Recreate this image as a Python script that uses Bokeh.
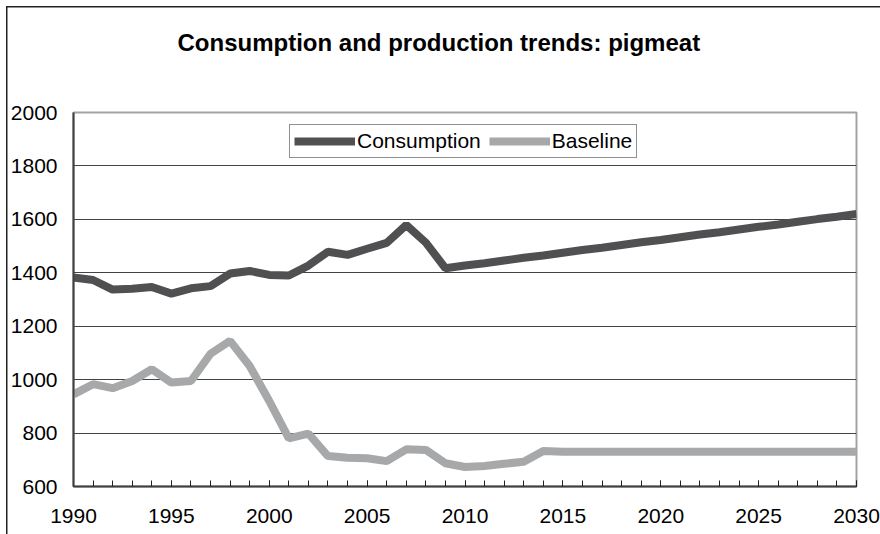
from bokeh.plotting import figure
from bokeh.models import Range1d, SingleIntervalTicker, Legend, LegendItem, Title
from bokeh.embed import file_html
from bokeh.resources import INLINE

# Pigmeat consumption and production (baseline), 1990-2030
years = list(range(1990, 2031))

consumption = [
    1382, 1373, 1337, 1340, 1347, 1322, 1342, 1350, 1397, 1407,
    1392, 1390, 1427, 1479, 1467, 1490, 1512, 1579, 1513, 1417,
    1427, 1436, 1446, 1456, 1465, 1475, 1485, 1494, 1504, 1514,
    1523, 1533, 1543, 1552, 1562, 1572, 1581, 1591, 1601, 1610,
    1620,
]

baseline = [
    945, 983, 968, 995, 1039, 989, 995, 1097, 1145, 1051,
    920, 780, 798, 714, 708, 706, 695, 739, 737, 687,
    673, 677, 685, 693, 733, 730, 730, 730, 730, 730,
    730, 730, 730, 730, 730, 730, 730, 730, 730, 730,
    730,
]

series_names = ["Consumption", "Baseline"]
title_text = "Consumption and production trends: pigmeat"

FONT = "Liberation Sans"

p = figure(width=880, height=534, output_backend="svg", toolbar_location=None,
           title=None,
           x_range=Range1d(1990, 2030), y_range=Range1d(600, 2000),
           min_border_left=73, min_border_right=24,
           min_border_top=112, min_border_bottom=48)

# chart frame: a thin dark rule along the left and top of the whole chart,
# painted behind a transparent border area
p.border_fill_alpha = 0
p.styles = {
    "background": "linear-gradient(#222, #222) 6px 6px / 1.5px 100% no-repeat, "
                  "linear-gradient(#222, #222) 6px 5.5px / 100% 1.5px no-repeat, "
                  "white",
}

p.background_fill_color = "white"
p.outline_line_color = "#a3a3a3"
p.outline_line_width = 2

# blank gap between the plot frame and the title (first "above" item sits
# next to the frame), then the title itself
p.add_layout(Title(text=" ", text_font_size="10px", standoff=39), "above")
p.add_layout(Title(text=title_text, text_font=FONT, text_font_size="24px",
                   text_font_style="bold", text_color="black",
                   align="left", offset=104, standoff=10,
                   vertical_align="bottom"), "above")

# x axis: labels every 5 years, a tick every year pointing inward
p.xaxis.ticker = SingleIntervalTicker(interval=5, num_minor_ticks=5)
p.xaxis.major_tick_in = 6
p.xaxis.major_tick_out = 0
p.xaxis.minor_tick_in = 6
p.xaxis.minor_tick_out = 0
p.xaxis.major_tick_line_color = "#222222"
p.xaxis.minor_tick_line_color = "#222222"
p.xaxis.axis_line_color = "#404040"
p.xaxis.axis_line_width = 2
p.xaxis.major_label_standoff = 22

# y axis
p.yaxis.ticker = SingleIntervalTicker(interval=200, num_minor_ticks=0)
p.yaxis.major_tick_in = 0
p.yaxis.major_tick_out = 0
p.yaxis.minor_tick_in = 0
p.yaxis.minor_tick_out = 0
p.yaxis.axis_line_color = "#404040"
p.yaxis.axis_line_width = 2
p.yaxis.major_label_standoff = 16

for ax in (p.xaxis, p.yaxis):
    ax.major_label_text_font = FONT
    ax.major_label_text_font_size = "21px"
    ax.major_label_text_color = "black"

p.xgrid.visible = False
p.ygrid.grid_line_color = "#444444"
p.ygrid.grid_line_width = 1

r_cons = p.line(years, consumption, line_color="#505052", line_width=8)
r_base = p.line(years, baseline, line_color="#a7a8aa", line_width=8)

legend = Legend(items=[LegendItem(label=series_names[0], renderers=[r_cons]),
                       LegendItem(label=series_names[1], renderers=[r_base])],
                orientation="horizontal", location=(216, 328))
legend.glyph_width = 61
legend.glyph_height = 20
legend.label_standoff = 2
legend.spacing = 8
legend.padding = 4
legend.margin = 0
legend.border_line_color = "#222222"
legend.border_line_width = 1
legend.label_text_font = FONT
legend.label_text_font_size = "21px"
legend.label_text_color = "black"
legend.background_fill_alpha = 1
p.add_layout(legend, "center")

open("out.html", "w").write(file_html(p, INLINE))
